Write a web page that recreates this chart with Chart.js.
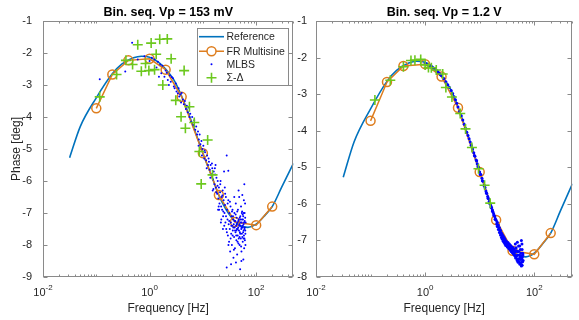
<!DOCTYPE html>
<html>
<head>
<meta charset="utf-8">
<script src="https://cdn.jsdelivr.net/npm/chart.js@4.4.0/dist/chart.umd.min.js"></script>
<style>
  body { margin: 0; background: #fff; }
  #wrap { position: relative; width: 579px; height: 320px; }
  #leftBox { position: absolute; left: 0; top: 0; width: 300px; height: 320px; }
  #rightBox { position: absolute; left: 290px; top: 0; width: 289px; height: 320px; }
</style>
</head>
<body>
<div id="wrap">
  <div id="leftBox"><canvas id="leftChart"></canvas></div>
  <div id="rightBox"><canvas id="rightChart"></canvas></div>
</div>
<script>
'use strict';

// tick labels
const xTickValues = [0.01, 1, 100];
const xTickExp = ['-2', '0', '2'];

// reference model (same in both plots)
const refFreq = [0.0316, 0.05, 0.1, 0.2, 0.3, 0.5, 0.7, 1, 1.5, 2, 3, 4, 6, 10, 15, 20, 30, 50, 70, 100, 150, 200, 300, 500];
const refPhase = [-5.27, -4.3, -3.4, -2.65, -2.35, -2.15, -2.1, -2.13, -2.3, -2.5, -2.9, -3.35, -4.1, -5.13, -5.9, -6.45, -7.0, -7.4, -7.45, -7.35, -7.05, -6.8, -6.2, -5.45];

// FR multisine (same in both plots)
const frFreq = [0.1, 0.2, 0.4, 1, 2, 4, 10, 20, 40, 100, 200];
const frPhase = [-3.73, -2.67, -2.23, -2.18, -2.52, -3.37, -5.13, -6.44, -7.28, -7.38, -6.8];

// MLBS, Vp = 153 mV  [freq, phase]
const mlbsLeft = [
  [0.116, -2.82], [0.35, -2.58], [0.47, -1.68], [0.6, -2.2], [0.8, -2.1], [1.0, -2.25], [1.1, -2.15], [1.24, -2.2],
  [1.35, -2.45], [1.43, -2.27], [1.5, -2.74], [1.58, -2.36], [1.66, -2.63], [1.75, -2.4], [1.9, -2.74], [2.0, -2.55],
  [2.1, -2.62], [2.2, -2.84], [2.3, -3.0], [2.4, -2.7], [2.5, -2.9], [2.6, -2.75], [2.75, -2.79], [2.85, -3.05],
  [2.95, -3.1], [3.1, -2.95], [3.2, -3.2], [3.4, -3.26], [3.5, -3.1], [3.6, -3.36], [3.75, -3.3], [3.9, -3.55],
  [4.0, -3.25], [4.2, -3.45], [4.4, -3.6], [4.6, -3.5], [4.8, -3.75], [5.0, -3.65], [5.2, -3.85], [5.4, -3.7],
  [5.6, -4.0], [5.8, -3.9], [6.0, -4.15], [6.3, -4.0], [6.6, -4.25], [6.9, -4.1], [7.2, -4.4], [7.5, -4.3],
  [7.8, -4.55], [8.1, -4.45], [8.4, -4.7], [8.7, -4.55], [9.0, -4.85], [9.4, -4.75], [9.8, -5.0], [10.2, -4.9],
  [10.6, -5.3], [11.0, -5.1], [11.5, -5.35], [12.0, -5.2], [12.5, -5.5], [13.0, -5.4], [13.5, -5.65], [14.0, -5.5],
  [14.5, -5.8], [15.0, -5.6], [15.5, -5.95], [16.0, -5.7], [16.5, -6.1], [17.0, -5.8], [17.5, -6.2], [18.0, -5.9],
  [18.5, -6.4], [19.0, -6.0], [19.5, -6.55], [20.0, -6.2], [20.5, -6.7], [21.0, -6.35], [21.5, -6.0], [22.0, -6.8],
  [22.5, -6.5], [23.0, -6.9], [23.5, -6.3], [24.0, -7.1], [24.5, -6.6], [25.0, -5.7], [25.5, -7.0], [26.0, -6.75],
  [26.5, -7.3], [27.0, -6.5], [27.5, -7.5], [28.0, -5.2], [28.0, -8.7], [28.5, -6.9], [29.0, -7.2], [29.5, -7.7],
  [30.0, -5.68], [30.0, -6.6], [30.5, -7.35], [31.0, -7.9], [31.5, -7.0], [32.0, -7.5], [32.5, -8.2], [33.0, -6.8],
  [33.5, -7.3], [34.0, -7.65], [34.5, -7.1], [35.0, -8.0], [35.5, -7.4], [36.0, -6.9], [36.5, -7.55], [37.0, -7.2],
  [37.5, -8.4], [38.0, -7.35], [38.5, -7.75], [39.0, -7.0], [39.5, -7.45], [40.0, -8.1], [40.5, -7.25], [41.0, -7.6],
  [41.5, -6.7], [42.0, -7.4], [42.5, -7.85], [43.0, -7.15], [43.5, -7.5], [44.0, -8.3], [44.5, -7.3], [45.0, -7.7],
  [45.5, -6.9], [46.0, -7.45], [46.5, -7.95], [47.0, -7.2], [47.5, -7.55], [48.0, -6.5], [48.5, -7.35], [49.0, -8.0],
  [49.5, -7.6], [50.0, -8.76], [50.5, -7.1], [51.0, -7.4], [51.5, -7.8], [52.0, -6.8], [52.5, -7.5], [53.0, -8.2],
  [53.5, -7.3], [54.0, -7.65], [54.5, -6.95], [55.0, -6.44], [55.5, -7.45], [56.0, -7.9], [56.5, -7.2], [57.0, -7.6],
  [57.5, -8.45], [58.0, -7.35], [58.5, -7.0], [59.0, -7.7], [59.5, -8.1], [60.0, -6.1], [60.5, -7.5], [61.0, -7.25],
  [61.5, -7.85], [62.0, -6.7], [62.5, -7.55], [63.0, -8.0], [63.5, -7.3],
  [8.3, -4.9], [9.6, -5.2], [10.8, -5.05], [11.8, -5.6], [12.8, -5.3], [13.8, -5.9], [14.8, -5.45], [15.8, -6.25],
  [16.8, -5.6], [17.8, -6.35], [18.8, -6.15], [19.8, -6.8], [15.3, -6.3], [17.3, -5.5], [19.3, -6.9], [21.8, -7.3],
  [23.8, -7.5], [25.8, -6.2], [20.2, -6.9], [21.2, -6.1], [22.2, -7.2], [23.2, -6.45], [24.2, -6.95], [25.2, -7.4],
  [26.2, -6.4], [27.2, -7.1], [28.2, -7.6], [29.2, -6.7], [30.2, -8.0], [31.2, -7.25], [32.2, -6.65], [33.2, -7.8],
  [34.2, -7.4], [35.2, -6.95], [36.2, -7.7], [37.2, -7.45], [38.2, -8.15], [39.2, -7.25], [40.2, -7.55], [41.2, -7.05],
  [42.2, -7.7], [43.2, -7.35], [44.2, -6.95], [45.2, -7.5], [46.2, -7.25], [47.2, -7.8], [48.2, -7.4], [49.2, -7.15],
  [50.2, -7.65], [51.2, -7.3], [52.2, -8.05], [53.2, -7.45], [54.2, -7.2], [55.2, -7.75], [56.2, -7.4], [57.2, -7.1],
  [58.2, -7.55], [59.2, -7.3], [60.2, -7.8], [61.2, -7.45], [62.2, -7.15], [33.8, -8.6], [41.8, -8.55], [46.8, -6.3],
  [38.8, -6.5], [52.8, -8.5], [58.8, -6.6], [44.8, -7.9], [50.8, -7.2], [55.8, -7.05], [36.8, -7.1], [42.8, -7.55],
  [48.8, -7.75], [53.8, -7.0], [57.8, -7.8], [60.8, -7.0], [62.8, -7.65]
];

// MLBS, Vp = 1.2 V  [freq, phase]
const mlbsRight = [
  [1.0, -2.15], [1.1, -2.18], [1.2, -2.22], [1.3, -2.24], [1.4, -2.28], [1.5, -2.31], [1.6, -2.34], [1.7, -2.38],
  [1.8, -2.42], [1.9, -2.46], [2.0, -2.5], [2.2, -2.57], [2.4, -2.66], [2.6, -2.74], [2.8, -2.82], [3.0, -2.9],
  [3.2, -2.98], [3.4, -3.07], [3.6, -3.15], [3.8, -3.25], [4.0, -3.35], [4.3, -3.47], [4.6, -3.59], [4.9, -3.71],
  [5.2, -3.82], [5.5, -3.93], [5.8, -4.04], [6.1, -4.13], [6.4, -4.22], [6.7, -4.31], [7.0, -4.4], [7.4, -4.5],
  [7.8, -4.6], [8.2, -4.7], [8.6, -4.8], [9.0, -4.9], [9.5, -5.0], [10.0, -5.13], [10.5, -5.2], [11.0, -5.3],
  [11.5, -5.38], [12.0, -5.5], [12.5, -5.55], [13.0, -5.65], [13.5, -5.72], [14.0, -5.8], [14.5, -5.86], [15.0, -5.93],
  [15.5, -6.0], [16.0, -6.05], [16.5, -6.1], [17.0, -6.16], [17.5, -6.22], [18.0, -6.27], [18.5, -6.32], [19.0, -6.36],
  [19.5, -6.42], [20.0, -6.45], [21.0, -6.5], [21.0, -6.62], [22.0, -6.58], [22.0, -6.7], [23.0, -6.65], [23.0, -6.78],
  [24.0, -6.72], [24.0, -6.85], [25.0, -6.8], [25.0, -6.92], [26.0, -6.84], [26.0, -6.97], [27.0, -6.88], [27.0, -7.02],
  [28.0, -6.92], [28.0, -7.06], [29.0, -6.96], [29.0, -7.1], [30.0, -7.0], [30.0, -7.14], [31.0, -7.03], [32.0, -7.18],
  [33.0, -7.06], [34.0, -7.22], [35.0, -7.1], [36.0, -7.26], [37.0, -7.14], [38.0, -7.3], [39.0, -7.18], [40.0, -7.34],
  [41.0, -7.2], [42.0, -7.38], [43.0, -7.24], [44.0, -7.42], [45.0, -7.1], [46.0, -7.45], [47.0, -7.28], [48.0, -7.5],
  [49.0, -7.05], [50.0, -7.4], [51.0, -7.55], [52.0, -7.3], [53.0, -7.6], [54.0, -7.15], [55.0, -7.45], [56.0, -7.62],
  [57.0, -7.35], [58.0, -7.0], [59.0, -7.5], [60.0, -7.25], [61.0, -7.58], [62.0, -7.4],
  [8.0, -4.68], [8.8, -4.82], [9.3, -4.98], [10.2, -5.2], [11.2, -5.37], [12.2, -5.5], [13.2, -5.7], [14.2, -5.85],
  [15.2, -5.98], [16.2, -6.1], [17.2, -6.2], [18.2, -6.32], [19.2, -6.42], [20.5, -6.55], [21.5, -6.6], [22.5, -6.66],
  [23.5, -6.76], [24.5, -6.8], [25.5, -6.87], [26.5, -6.92], [27.5, -6.97], [28.5, -7.0], [29.5, -7.05], [30.5, -7.08],
  [31.5, -7.12], [32.5, -7.1], [33.5, -7.16], [34.5, -7.2], [35.5, -7.22], [36.5, -7.18], [37.5, -7.28], [38.5, -7.24],
  [39.5, -7.32], [40.5, -7.28], [41.5, -7.36], [42.5, -7.3], [43.5, -7.4], [44.5, -7.32], [45.5, -7.48], [46.5, -7.2],
  [47.5, -7.42], [48.5, -7.55], [49.5, -7.3], [50.5, -7.6], [51.5, -7.15], [52.5, -7.5], [53.5, -7.4], [54.5, -7.65],
  [55.5, -7.25], [56.5, -7.52], [57.5, -7.42], [58.5, -7.6], [59.5, -7.1], [60.5, -7.45], [61.5, -7.35], [62.5, -7.55],
  [60.0, -7.68], [58.0, -7.7]
];

// Sigma-Delta  [freq, phase]
const sdLeft = [
  [0.116, -3.37], [0.24, -2.67], [0.36, -2.23], [0.48, -2.36], [0.6, -1.74], [0.7, -2.57], [0.84, -2.33], [0.97, -2.55],
  [1.07, -1.69], [1.24, -2.52], [1.33, -2.04], [1.55, -1.57], [2.15, -1.56], [1.77, -3.0], [2.54, -2.18], [3.1, -3.48],
  [3.9, -3.99], [4.45, -2.55], [4.7, -4.35], [5.6, -3.68], [6.9, -4.17], [8.6, -5.08], [12.3, -4.72], [9.3, -6.09],
  [15.2, -5.81]
];
const sdRight = [
  [0.12, -3.16], [0.23, -2.62], [0.4, -2.25], [0.55, -2.08], [0.65, -2.07], [0.83, -2.05], [1.0, -2.2], [1.15, -2.27],
  [1.3, -2.28], [1.6, -2.34], [2.1, -2.45], [2.4, -2.82], [3.1, -3.08], [4.4, -3.53], [5.5, -3.95], [7.2, -4.46],
  [9.5, -5.04], [12.3, -5.49], [15.6, -5.98]
];

const textColor = '#262626';
const axisColor = '#8a8a8a';
const refColor = 'rgb(0, 114, 189)';
const frColor = 'rgb(222, 125, 30)';
const mlbsColor = 'rgb(0, 0, 255)';
const sdColor = 'rgb(108, 200, 30)';
const fontName = '"Liberation Sans", Arial, sans-serif';

Chart.defaults.font.family = '"Liberation Sans", Arial, Helvetica, sans-serif';
Chart.defaults.color = textColor;

function toXY(freqs, phases) {
  return freqs.map((f, i) => ({ x: f, y: phases[i] }));
}

function pairsToXY(pairs) {
  return pairs.map(p => ({ x: p[0], y: p[1] }));
}

function buildDatasets(mlbs, sd, dotRadius) {
  return [
    {
      label: 'Reference',
      data: toXY(refFreq, refPhase),
      showLine: true,
      borderColor: refColor,
      borderWidth: 1.6,
      pointRadius: 0,
      cubicInterpolationMode: 'monotone',
      order: 4
    },
    {
      label: 'FR Multisine',
      data: toXY(frFreq, frPhase),
      showLine: true,
      borderColor: frColor,
      borderWidth: 1.5,
      pointRadius: 4.5,
      pointBorderWidth: 1.5,
      pointBorderColor: frColor,
      pointBackgroundColor: 'rgba(0,0,0,0)',
      order: 3
    },
    {
      label: 'MLBS',
      data: pairsToXY(mlbs),
      showLine: false,
      pointRadius: dotRadius,
      pointBorderWidth: 0,
      pointBackgroundColor: mlbsColor,
      pointBorderColor: mlbsColor,
      order: 2
    },
    {
      label: 'Σ-Δ',
      data: pairsToXY(sd),
      showLine: false,
      pointStyle: 'cross',
      pointRadius: 5,
      pointBorderWidth: 1.6,
      pointBorderColor: sdColor,
      order: 1
    }
  ];
}

// box, inward ticks, title and superscript x labels (MATLAB look)
const framePlugin = {
  id: 'frame',
  afterDraw(chart) {
    const ctx = chart.ctx;
    const a = chart.chartArea;
    const xs = chart.scales.x;
    const ys = chart.scales.y;
    const opts = chart.options.plugins.frame;
    const L = Math.round(a.left) + 0.5;
    const R = Math.round(a.right) - 0.5;
    const T = Math.round(a.top) + 0.5;
    const B = Math.round(a.bottom) - 0.5;

    ctx.save();
    ctx.strokeStyle = axisColor;
    ctx.lineWidth = 1;
    ctx.strokeRect(L, T, R - L, B - T);

    ctx.beginPath();
    for (let d = -2; d <= 2; d++) {
      for (let k = 1; k <= 9; k++) {
        const v = k * Math.pow(10, d);
        if (v < 0.01 || v > 500) continue;
        const x = Math.round(xs.getPixelForValue(v)) + 0.5;
        const len = (k === 1 && d % 2 === 0) ? 4 : 2;
        ctx.moveTo(x, B); ctx.lineTo(x, B - len);
        ctx.moveTo(x, T); ctx.lineTo(x, T + len);
      }
    }
    for (let v = ys.min; v <= ys.max; v++) {
      const y = Math.round(ys.getPixelForValue(v)) + 0.5;
      ctx.moveTo(L, y); ctx.lineTo(L + 4, y);
      ctx.moveTo(R, y); ctx.lineTo(R - 4, y);
    }
    ctx.stroke();

    // title centred over the axes
    ctx.fillStyle = '#000';
    ctx.font = 'bold 12.5px ' + fontName;
    ctx.textAlign = 'center';
    ctx.textBaseline = 'middle';
    ctx.fillText(opts.title, (a.left + a.right) / 2, 12.5);

    ctx.fillStyle = textColor;
    ctx.textBaseline = 'alphabetic';
    ctx.textAlign = 'left';
    for (let i = 0; i < xTickValues.length; i++) {
      const x = xs.getPixelForValue(xTickValues[i]);
      ctx.font = '11px ' + fontName;
      const w1 = ctx.measureText('10').width;
      ctx.font = '8px ' + fontName;
      const w2 = ctx.measureText(xTickExp[i]).width;
      const x0 = x - (w1 + w2) / 2;
      ctx.font = '11px ' + fontName;
      ctx.fillText('10', x0, a.bottom + 19);
      ctx.font = '8px ' + fontName;
      ctx.fillText(xTickExp[i], x0 + w1, a.bottom + 13);
    }
    ctx.restore();

    if (opts.legend) {
      drawLegend(chart);
    }
  }
};

function drawLegend(chart) {
  const ctx = chart.ctx;
  const bx = 197, by = 28, bw = 91, bh = 57;
  const rows = [36.7, 51.2, 64.2, 77.8];
  const x1 = 199, x2 = 224, xm = 211.5, xt = 226.5;
  ctx.save();
  ctx.fillStyle = '#fff';
  ctx.fillRect(bx, by, bw, bh);
  ctx.strokeStyle = axisColor;
  ctx.lineWidth = 1;
  ctx.strokeRect(bx + 0.5, by + 0.5, bw, bh);

  ctx.lineWidth = 1.6;
  ctx.strokeStyle = refColor;
  ctx.beginPath(); ctx.moveTo(x1, rows[0]); ctx.lineTo(x2, rows[0]); ctx.stroke();

  ctx.lineWidth = 1.5;
  ctx.strokeStyle = frColor;
  ctx.beginPath(); ctx.moveTo(x1, rows[1]); ctx.lineTo(xm - 4.5, rows[1]);
  ctx.moveTo(xm + 4.5, rows[1]); ctx.lineTo(x2, rows[1]); ctx.stroke();
  ctx.beginPath(); ctx.arc(xm, rows[1], 4.5, 0, Math.PI * 2); ctx.stroke();

  ctx.fillStyle = mlbsColor;
  ctx.beginPath(); ctx.arc(xm, rows[2], 1, 0, Math.PI * 2); ctx.fill();

  ctx.strokeStyle = sdColor;
  ctx.lineWidth = 1.6;
  ctx.beginPath();
  ctx.moveTo(xm - 5, rows[3]); ctx.lineTo(xm + 5, rows[3]);
  ctx.moveTo(xm, rows[3] - 5); ctx.lineTo(xm, rows[3] + 5);
  ctx.stroke();

  ctx.fillStyle = textColor;
  ctx.font = '10.5px ' + fontName;
  ctx.textBaseline = 'middle';
  ctx.textAlign = 'left';
  const names = chart.data.datasets.map(ds => ds.label);
  for (let i = 0; i < names.length; i++) {
    ctx.fillText(names[i], xt, rows[i] + 0.5);
  }
  ctx.restore();
}

function makeChart(canvasId, cfg) {
  const ctx = document.getElementById(canvasId).getContext('2d');
  return new Chart(ctx, {
    type: 'scatter',
    data: { datasets: buildDatasets(cfg.mlbs, cfg.sd, cfg.dotRadius) },
    plugins: [framePlugin],
    options: {
      responsive: true,
      maintainAspectRatio: false,
      animation: false,
      layout: { padding: { left: 0, right: cfg.padRight, top: 21, bottom: 0 } },
      plugins: {
        legend: { display: false },
        tooltip: { enabled: false },
        title: { display: false },
        frame: { legend: cfg.legend, title: cfg.title }
      },
      scales: {
        x: {
          type: 'logarithmic',
          min: 0.01,
          max: 500,
          grid: { display: false, drawTicks: false },
          border: { display: false },
          ticks: { display: false },
          title: {
            display: true,
            text: 'Frequency [Hz]',
            color: textColor,
            font: { size: 12 },
            padding: { top: 0, bottom: 4 }
          },
          afterFit: s => { s.height = 43; }
        },
        y: {
          min: cfg.yMin,
          max: -1,
          grid: { display: false, drawTicks: false },
          border: { display: false },
          ticks: { stepSize: 1, padding: cfg.tickPad, color: textColor, font: { size: 11 } },
          title: {
            display: cfg.yTitle !== '',
            text: cfg.yTitle,
            color: textColor,
            font: { size: 12 },
            padding: { top: 9, bottom: 0 }
          },
          afterFit: s => { s.width = cfg.yWidth; }
        }
      }
    }
  });
}

makeChart('leftChart', {
  title: 'Bin. seq. Vp = 153 mV',
  mlbs: mlbsLeft,
  sd: sdLeft,
  dotRadius: 1,
  yMin: -9,
  yTitle: 'Phase [deg]',
  yWidth: 43,
  tickPad: 11,
  padRight: 5,
  legend: true
});

makeChart('rightChart', {
  title: 'Bin. seq. Vp = 1.2 V',
  mlbs: mlbsRight,
  sd: sdRight,
  dotRadius: 1.5,
  yMin: -8,
  yTitle: '',
  yWidth: 26,
  tickPad: 9,
  padRight: 6,
  legend: false
});
</script>
</body>
</html>
